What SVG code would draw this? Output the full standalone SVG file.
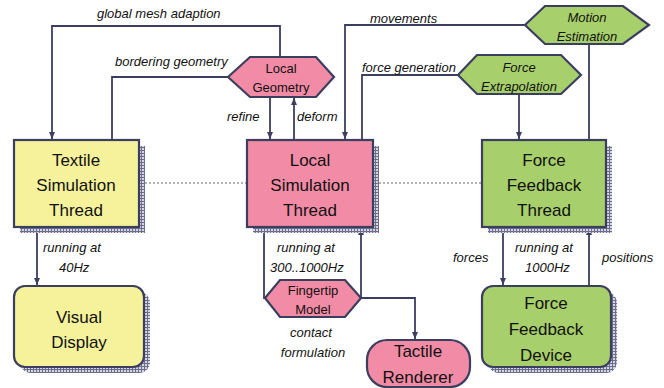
<svg xmlns="http://www.w3.org/2000/svg" width="664" height="388" viewBox="0 0 664 388">
<defs>
<pattern id="hatch" width="3" height="3" patternUnits="userSpaceOnUse">
<rect width="3" height="3" fill="#d6d6e2"/>
<path d="M0,0.5 H3 M0.5,0 V3" stroke="#6b6d8c" stroke-width="1"/>
</pattern>
<marker id="arr" markerWidth="8" markerHeight="8" refX="7" refY="4" orient="auto" markerUnits="userSpaceOnUse">
<path d="M0,1 L7,4 L0,7 Z" fill="#3b3e5f"/>
</marker>
<style>
.box{stroke:#3b3e5f;stroke-width:2.2}
.yel{fill:#f5f29b}
.pink{fill:#f28ba5}
.grn{fill:#a7cf6b}
.shadow{fill:url(#hatch)}
.t{font-family:"Liberation Sans",Arial,sans-serif;font-size:17px;fill:#111;text-anchor:middle}
.h{font-family:"Liberation Sans",Arial,sans-serif;font-size:13px;fill:#111;text-anchor:middle}
.hi{font-style:italic}
.lbl{font-family:"Liberation Sans",Arial,sans-serif;font-size:13px;font-style:italic;fill:#111}
.c{fill:none;stroke:#3b3e5f;stroke-width:1.8}
.dot{fill:none;stroke:#9a9a9a;stroke-width:1.5;stroke-dasharray:2 2}
</style>
</defs>

<g id="connectors">
<path class="c" d="M280,57 V26 H52 V139" marker-end="url(#arr)"/>
<path class="c" d="M228,77 H112 V140"/>
<path class="c" d="M270,97 V139" marker-end="url(#arr)"/>
<path class="c" d="M294,140 V98" marker-end="url(#arr)"/>
<path class="c" d="M525,25 H345 V139" marker-end="url(#arr)"/>
<path class="c" d="M458,75 H362 V140"/>
<path class="c" d="M519,94 V139" marker-end="url(#arr)"/>
<path class="c" d="M589,43 V140"/>
<path class="c" d="M37,227 V285" marker-end="url(#arr)"/>
<path class="c" d="M264,227 V298 H266"/>
<path class="c" d="M361,298 V228" marker-end="url(#arr)"/>
<path class="c" d="M361,298 H415 V339" marker-end="url(#arr)"/>
<path class="c" d="M503,227 V285" marker-end="url(#arr)"/>
<path class="c" d="M589,286 V228" marker-end="url(#arr)"/>
<path class="dot" d="M145,183 H247"/>
<path class="dot" d="M379,183 H482"/>
<text class="lbl" x="97" y="18">global mesh adaption</text>
<text class="lbl" x="115" y="66">bordering geometry</text>
<text class="lbl" x="227" y="121">refine</text>
<text class="lbl" x="297" y="121">deform</text>
<text class="lbl" x="370" y="23">movements</text>
<text class="lbl" x="362" y="72">force generation</text>
<text class="lbl" x="43" y="252">running at</text>
<text class="lbl" x="59" y="272">40Hz</text>
<text class="lbl" x="277" y="252">running at</text>
<text class="lbl" x="270" y="272">300..1000Hz</text>
<text class="lbl" x="311" y="337" text-anchor="middle">contact</text>
<text class="lbl" x="313" y="357" text-anchor="middle">formulation</text>
<text class="lbl" x="453" y="262">forces</text>
<text class="lbl" x="602" y="262">positions</text>
<text class="lbl" x="515" y="252">running at</text>
<text class="lbl" x="525" y="272">1000Hz</text>
</g>

<g id="textile-thread">
<rect class="shadow" x="20" y="146" width="125" height="87"/>
<rect class="box yel" x="14" y="140" width="125" height="87"/>
<text class="t" x="76" y="166">Textile</text>
<text class="t" x="76" y="191">Simulation</text>
<text class="t" x="76" y="216">Thread</text>
</g>

<g id="local-thread">
<rect class="shadow" x="253" y="146" width="126" height="87"/>
<rect class="box pink" x="247" y="140" width="126" height="87"/>
<text class="t" x="310" y="166">Local</text>
<text class="t" x="310" y="191">Simulation</text>
<text class="t" x="310" y="216">Thread</text>
</g>

<g id="ff-thread">
<rect class="shadow" x="488" y="146" width="124" height="87"/>
<rect class="box grn" x="482" y="140" width="124" height="87"/>
<text class="t" x="544" y="166">Force</text>
<text class="t" x="544" y="191">Feedback</text>
<text class="t" x="544" y="216">Thread</text>
</g>

<g id="visual-display">
<rect class="shadow" x="20" y="292" width="130" height="81" rx="11"/>
<rect class="box yel" x="14" y="286" width="130" height="81" rx="11"/>
<text class="t" x="79" y="323">Visual</text>
<text class="t" x="79" y="348">Display</text>
</g>

<g id="ff-device">
<rect class="shadow" x="488" y="292" width="129" height="81" rx="11"/>
<rect class="box grn" x="482" y="286" width="129" height="81" rx="11"/>
<text class="t" x="546" y="309">Force</text>
<text class="t" x="546" y="335">Feedback</text>
<text class="t" x="546" y="361">Device</text>
</g>

<g id="tactile-renderer">
<rect class="box pink" x="367" y="340" width="103" height="47" rx="20"/>
<text class="t" x="418" y="357">Tactile</text>
<text class="t" x="418" y="383">Renderer</text>
</g>

<g id="local-geometry">
<polygon class="box pink" points="228,77 250,57 316,57 334,77 316,97 250,97"/>
<text class="h" x="281" y="73">Local</text>
<text class="h" x="281" y="92">Geometry</text>
</g>

<g id="motion-estimation">
<polygon class="box grn" points="525,25 545,6 623,6 649,25 623,44 545,44"/>
<text class="h hi" x="587" y="22">Motion</text>
<text class="h hi" x="587" y="41">Estimation</text>
</g>

<g id="force-extrapolation">
<polygon class="box grn" points="458,75 477,55 561,55 581,75 561,94 477,94"/>
<text class="h hi" x="519" y="72">Force</text>
<text class="h hi" x="519" y="91">Extrapolation</text>
</g>

<g id="fingertip-model">
<polygon class="box pink" points="265,298 280,280 345,280 361,298 345,317 280,317"/>
<text class="h" x="313" y="295">Fingertip</text>
<text class="h" x="313" y="314">Model</text>
</g>
</svg>
